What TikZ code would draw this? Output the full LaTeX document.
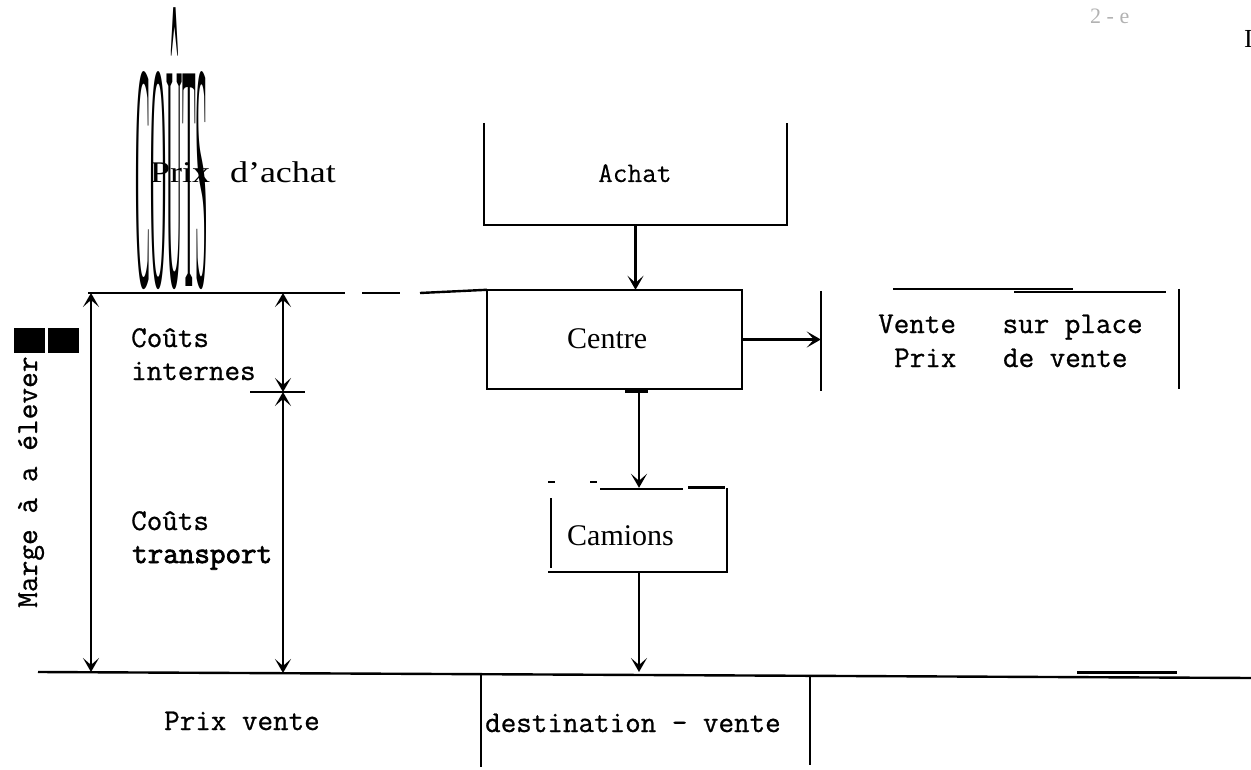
\documentclass[tikz,border=0pt]{standalone}
\usepackage{fontspec}
\usepackage{graphicx}
\setmainfont{Liberation Serif}
\newfontfamily\tw{Latin Modern Mono}[FakeBold=0.8]
\newfontfamily\twl{Latin Modern Mono}[FakeBold=0.3]
\newfontfamily\twb{Latin Modern Mono}[FakeBold=2.5]
\usetikzlibrary{arrows.meta}
\begin{document}
\begin{tikzpicture}[x=1pt,y=-1pt,
  ln/.style={line width=2.4pt},
  arr/.style={line width=2.2pt,-{Stealth[length=14pt,width=16pt,inset=7pt]}},
  darr/.style={line width=2.2pt,{Stealth[length=14pt,width=16pt,inset=7pt]}-{Stealth[length=14pt,width=16pt,inset=7pt]}},
  frame/.style={draw=none,inner sep=0pt},
  mono/.style={inner sep=0pt,anchor=base west,font=\tw\fontsize{30.2}{34}\selectfont},
  serif/.style={inner sep=0pt,anchor=base west,font=\fontsize{30}{34}\selectfont}]
\useasboundingbox (0,0) rectangle (1251,770);

% stretched heading
\node[inner sep=0pt,anchor=south west] (couts) at (135,290) {\resizebox{73pt}{278pt}{COÛTS}};
\node[serif] (pachat) at (150,183) {\scalebox{1.2}[1]{Prix\hspace{0.55em}d’achat}};

% boxes (frames)
\node[frame,minimum width=303pt,minimum height=102pt] (achat) at (635.5,174) {};
\node[frame,minimum width=255pt,minimum height=99pt] (centre) at (614.5,339.5) {};
\node[frame,minimum width=176pt,minimum height=84pt] (camions) at (639,530) {};
\node[frame,minimum width=358pt,minimum height=100pt] (vente) at (1000,341) {};
\node[frame,minimum width=329pt,minimum height=94pt] (dest) at (645.5,720) {};

\draw[ln] (achat.north west) -- (achat.south west) -- (achat.south east) -- (achat.north east);
\draw[ln] (centre.north west) rectangle (centre.south east);
\draw[ln] (625,391.5) -- (648,391.5);
% camions
\draw[ln] (551,498) -- (551,568);
\draw[ln] (548,572) -- (727,572) -- (727,488);
\draw[ln] (600,489) -- (683,489);
\draw[line width=3pt] (688,487) -- (725,487);
\draw[ln] (548,482) -- (555,482);
\draw[ln] (590,482) -- (597,482);
% vente
\draw[ln] (vente.north west) -- (vente.south west);
\draw[line width=2.6pt] (1179,289) -- (1179,389);
\draw[line width=2.8pt] (893,289) -- (1073,289);
\draw[ln] (1014,292) -- (1166,292);
% destination
\draw[ln] (481,673) -- (481,767);
\draw[ln] (810,675) -- (810,765);

% horizontal reference lines
\coordinate (tl) at (88,293);
\coordinate (bl) at (38,672);
\coordinate (br) at (1251,678);
\draw[ln] (tl) -- (345,293);
\draw[ln] (362,293) -- (400,293);
\draw[ln] (420,293) -- (centre.north west);
\draw[ln] (bl) -- (br);
\draw[line width=3pt] (1077,672) -- (1177,672);

% labels
\node[inner sep=0pt,anchor=base west,font=\twl\fontsize{28.5}{32}\selectfont] (tachat) at (598,182) {Achat};
\node[serif] (tcentre) at (567,348) {Centre};
\node[serif] (tcamions) at (567,545) {Camions};
\node[mono] (tv1) at (878,333) {Vente~~~sur place};
\node[mono] (tv2) at (894,367) {Prix~~~de vente};
\node[mono] (tdest) at (485,732) {destination - vente};
\node[mono] (tpv) at (164,730) {Prix vente};
\node[mono] (tci1) at (131,347) {Coûts};
\node[mono] (tci2) at (131,380) {internes};
\node[mono] (tct1) at (131,530) {Coûts};
\node[mono,font=\twb\fontsize{30.2}{34}\selectfont] (tct2) at (132,563) {transport};

% connectors
\draw[arr] (achat.south) -- (achat.south |- centre.north);
\draw[arr] (centre.east) -- (centre.east -| vente.west);
\draw[arr] (camions.north |- centre.south) -- (camions.north);
\draw[arr] (camions.south) -- (camions.south |- bl);

% dimension arrows
\coordinate (a1) at (91,293);
\coordinate (a2) at (91,672);
\coordinate (m1) at (283,293);
\coordinate (m2) at (283,392);
\coordinate (m3) at (283,673);
\draw[darr] (a1) -- (a2);
\draw[darr] (m1) -- (m2);
\draw[darr] (m2) -- (m3);
\draw[ln] (250,392) -- (305,392);

% vertical label and masks
\node[inner sep=0pt,anchor=base west,rotate=90,font=\tw\fontsize{30.5}{34}\selectfont] (marge) at (37,608) {Marge à a élever};
\fill (14,328) rectangle (45,353);
\fill (48,328) rectangle (79,353);

% scan remnants
\node[inner sep=0pt,anchor=base west,text=black!30,font=\fontsize{22}{22}\selectfont] (noise) at (1090,24) {2 - e};
\node[inner sep=0pt,anchor=base west,font=\fontsize{26}{26}\selectfont] (edge) at (1244,48) {I};
\end{tikzpicture}
\end{document}
